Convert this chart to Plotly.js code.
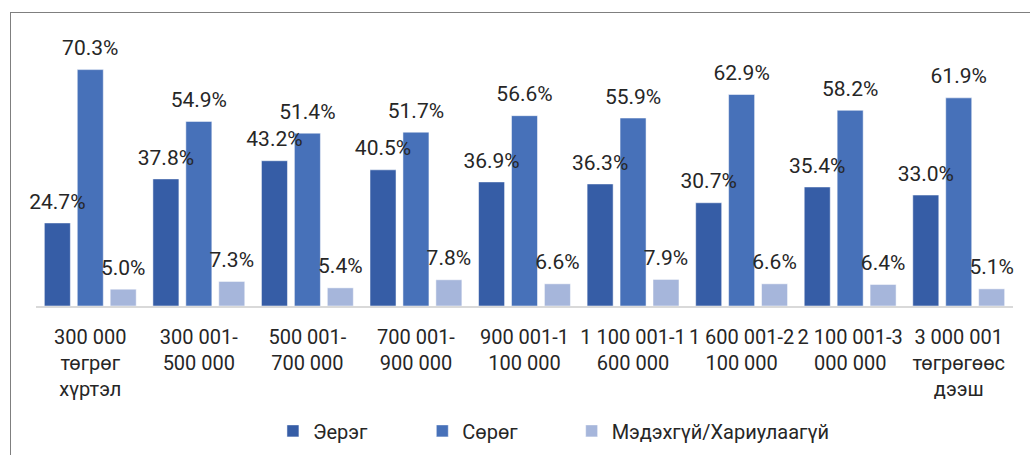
<!DOCTYPE html>
<html>
<head>
<meta charset="utf-8">
<script src="https://cdn.plot.ly/plotly-3.0.1.min.js"></script>
<style>
    body { margin: 0; background: #fff; }
    #wrap { position: relative; width: 1030px; height: 455px; }
    #chart { width: 1030px; height: 455px; }
    #frame {
        position: absolute; left: 10px; top: 12px; right: 0; bottom: 0;
        border-top: 1px solid #7f7f7f; border-left: 1px solid #7f7f7f;
        pointer-events: none;
    }
</style>
</head>
<body>
<div id="wrap">
    <div id="chart"></div>
    <div id="frame"></div>
</div>
<script>
// Income groups (tögrög)
const categories = [
    '300 000<br>төгрөг<br>хүртэл',
    '300 001-<br>500 000',
    '500 001-<br>700 000',
    '700 001-<br>900 000',
    '900 001-1<br>100 000',
    '1 100 001-1<br>600 000',
    '1 600 001-2<br>100 000',
    '2 100 001-3<br>000 000',
    '3 000 001<br>төгрөгөөс<br>дээш'
];

const seriesNames = ['Эерэг', 'Сөрөг', 'Мэдэхгүй/Хариулаагүй'];
const positive = [24.7, 37.8, 43.2, 40.5, 36.9, 36.3, 30.7, 35.4, 33.0];
const negative = [70.3, 54.9, 51.4, 51.7, 56.6, 55.9, 62.9, 58.2, 61.9];
const unknown  = [5.0, 7.3, 5.4, 7.8, 6.6, 7.9, 6.6, 6.4, 5.1];
const colors = ['#365da6', '#4771b9', '#a6b6db'];

const GAP = 0.09;
const labelFont = { family: 'Roboto, sans-serif', size: 21, color: '#262626' };

function barTrace(name, values, color, legendId) {
    return {
        type: 'bar',
        name: name,
        x: categories,
        y: values,
        marker: { color: color, line: { color: 'rgba(255,255,255,0.5)', width: 1 } },
        legend: legendId,
        hoverinfo: 'skip'
    };
}

// value labels, grouped the same way as the bars so they sit above them
function labelTrace(name, values) {
    return {
        type: 'scatter',
        mode: 'markers+text',
        name: name,
        x: categories,
        y: values,
        text: values.map(v => v.toFixed(1) + '%'),
        textposition: 'top center',
        textfont: labelFont,
        marker: { size: 13, opacity: 0 },
        cliponaxis: false,
        showlegend: false,
        hoverinfo: 'skip'
    };
}

// one legend box per series so the entries can be spaced like the original
function legendBox(x) {
    return {
        orientation: 'h',
        xref: 'container',
        x: x,
        xanchor: 'left',
        yref: 'container',
        y: 0.053,
        yanchor: 'middle',
        font: { family: 'Roboto, sans-serif', size: 20, color: '#262626' },
        bgcolor: 'rgba(0,0,0,0)'
    };
}

const traces = [
    barTrace(seriesNames[0], positive, colors[0], 'legend'),
    barTrace(seriesNames[1], negative, colors[1], 'legend2'),
    barTrace(seriesNames[2], unknown, colors[2], 'legend3'),
    labelTrace(seriesNames[0], positive),
    labelTrace(seriesNames[1], negative),
    labelTrace(seriesNames[2], unknown)
];

const layout = {
    width: 1030,
    height: 455,
    margin: { l: 36, r: 17, t: 37, b: 149 },
    paper_bgcolor: 'rgba(0,0,0,0)',
    plot_bgcolor: 'rgba(0,0,0,0)',
    barmode: 'group',
    bargap: GAP,
    bargroupgap: 0.21,
    scattermode: 'group',
    scattergap: GAP,
    showlegend: true,
    legend: legendBox(0.265),
    legend2: legendBox(0.410),
    legend3: legendBox(0.555),
    xaxis: {
        type: 'category',
        automargin: false,
        showline: true,
        linecolor: '#d9d9d9',
        linewidth: 2,
        ticks: '',
        showgrid: false,
        zeroline: false,
        ticklabelstandoff: 12,
        tickfont: { family: 'Roboto, sans-serif', size: 20, color: '#262626' }
    },
    yaxis: {
        visible: false,
        automargin: false,
        range: [0, 80],
        showgrid: false,
        zeroline: false
    }
};

Plotly.newPlot('chart', traces, layout, { displayModeBar: false, staticPlot: true });
</script>
</body>
</html>
